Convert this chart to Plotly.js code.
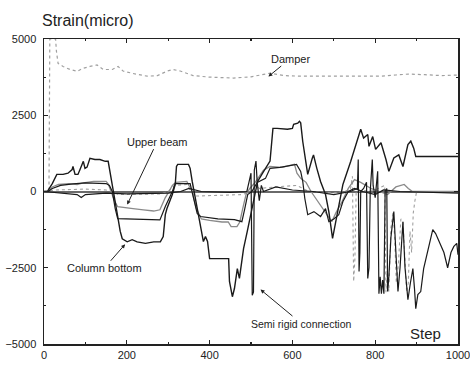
<!DOCTYPE html>
<html>
<head>
<meta charset="utf-8">
<script src="https://cdn.plot.ly/plotly-3.0.1.min.js"></script>
<style>html,body{margin:0;padding:0;background:#fff;}#chart{width:470px;height:365px;}</style>
</head>
<body>
<div id="chart"></div>
<script>
// ---- data ----
const damperX = [0,12,14,28,30,34,46,63,80,94,111,128,143,165,179,191,215,249,274,298,312,329,360,400,458,500,546,580,620,650,700,760,812,850,880,920,960,1000];
const damperY = [0,0,5000,5000,4600,4200,4100,4000,3940,4040,4100,4150,4000,4000,4100,3950,3870,3780,3800,3950,4000,3950,3800,3750,3720,3760,3880,3800,3780,3780,3760,3780,3780,3820,3850,3830,3800,3820];

const colX = [0,8,20,31,46,58,68,70,75,82,87,95,99,104,111,123,135,148,155,160,167,174,179,184,189,201,213,225,245,265,281,288,293,297,310,317,320,323,349,353,358,370,378,385,390,395,400,446,448,455,460,467,472,482,491,499,506,516,528,543,546,553,563,588,600,603,613,617,620,625,632,637,648,651,659,668,680,688,697,709,722,741,765,772,782,785,794,801,814,826,833,845,857,867,879,886,893,898,1000];
const colY = [0,0,260,560,560,600,720,820,560,560,720,990,760,800,1090,1050,1050,990,990,560,0,-500,-900,-1300,-1550,-1650,-1580,-1650,-1700,-1650,-1650,-1480,-760,-560,-100,230,820,890,890,760,330,-560,-1090,-1640,-1480,-1640,-2200,-2200,-2950,-3450,-3180,-2530,-2850,-1870,-1310,-760,-230,330,600,900,1000,2070,2070,2040,2070,2200,2240,2300,2250,1640,1090,560,1090,1200,760,330,-100,-660,-1540,-660,230,990,2040,1750,1870,1480,1800,1380,1600,1050,660,1100,1200,820,1540,1650,1420,1150,1150];

const upperX = [0,10,20,35,60,80,95,120,150,155,162,170,178,195,215,240,265,280,286,293,302,310,318,345,352,358,368,380,400,430,445,452,466,473,480,488,497,510,520,530,546,575,605,611,620,633,645,660,680,695,705,720,735,750,765,790,810,830,850,870,880,890,1000];
const upperY = [0,0,150,230,260,230,280,330,330,250,0,-300,-500,-520,-560,-600,-640,-600,-400,-200,0,200,300,330,150,0,-560,-900,-950,-1000,-1000,-1150,-1150,-1000,-560,-100,100,300,500,700,820,790,890,600,430,300,0,-300,-700,-990,-700,-330,100,390,300,100,0,-100,150,230,100,0,0];

const midX = [0,10,20,40,70,100,150,158,165,172,178,200,240,280,287,293,310,317,353,358,370,378,420,460,478,485,492,502,515,535,546,570,600,610,620,625,630,637,652,668,680,688,700,712,722,735,750,770,800,820,860,1000];
const midY = [0,0,100,200,250,280,260,200,0,-560,-890,-900,-920,-930,-700,-490,0,260,260,0,-720,-820,-900,-920,-990,-560,-100,0,300,430,760,790,850,890,660,330,-230,-760,-660,-820,-560,-990,-900,-760,-330,0,100,0,-100,50,0,-50];

const semiX = [0,40,80,90,100,150,200,300,330,350,380,450,490,495,500,503,506,508,512,515,520,525,530,560,600,650,700,740,757,759,761,763,765,772,779,782,785,788,793,795,800,806,809,812,815,818,821,824,828,830,833,838,845,850,855,860,867,872,879,885,891,895,898,903,910,917,930,939,946,958,966,975,983,990,997,1000];
const semiY = [0,-50,-100,-200,-100,-50,-80,-50,0,100,0,-30,0,300,600,-3400,-3300,700,1000,300,-300,200,0,150,50,0,-100,0,100,1050,-2620,-2000,0,100,300,-2850,-2500,0,1050,200,-200,660,-3350,-2800,-3350,-2900,-3350,0,100,-3280,-2800,-1500,-660,-2000,-3280,-2500,-990,-2500,-3550,-3000,-2530,-3200,-3840,-3380,-3280,-2530,-1740,-1250,-1380,-1740,-2000,-2500,-2000,-1800,-1700,-2070];

const braceX = [0,30,100,150,165,180,280,300,315,345,355,365,480,500,510,520,560,610,640,700,740,745,748,751,754,800,823,826,829,833,838,843,847,851,856,862,867,872,876,880,884,888,892,896,900,1000];
const braceY = [0,50,80,50,0,-100,-80,0,200,230,0,-150,-100,0,200,100,150,200,0,-50,50,500,-2950,-2200,0,50,200,-3300,-2600,-3280,-1200,-660,-1500,-3000,-2400,-900,-990,-2600,-3300,-3000,-1300,-2000,-700,-300,0,0];

const xTicks = [0,200,400,600,800,1000];
const yTicks = [-5000,-2500,0,2500,5000];

// ---- chart ----
const BLACK = '#1a1a1a', GRAY = '#8a8a8a', LGRAY = '#a0a0a0';
const traces = [
  {name:'Damper', x:damperX, y:damperY, mode:'lines', line:{color:LGRAY, width:1.2, dash:'dot'}},
  {name:'Brace', x:braceX, y:braceY, mode:'lines', line:{color:LGRAY, width:1.1, dash:'dot'}},
  {name:'Upper beam', x:upperX, y:upperY, mode:'lines', line:{color:GRAY, width:1.3}},
  {name:'Column top', x:midX, y:midY, mode:'lines', line:{color:BLACK, width:1.2}},
  {name:'Semi rigid connection', x:semiX, y:semiY, mode:'lines', line:{color:BLACK, width:1.2}},
  {name:'Column bottom', x:colX, y:colY, mode:'lines', line:{color:BLACK, width:1.4}}
];

const F = 'Arial, "Liberation Sans", sans-serif';
const layout = {
  width:470, height:365,
  margin:{l:44, r:12, t:39, b:21, autoexpand:false},
  paper_bgcolor:'#fff', plot_bgcolor:'#fff',
  showlegend:false,
  font:{family:F, size:11, color:'#222'},
  xaxis:{range:[0,1000], tickvals:xTicks, ticks:'inside', ticklen:4, tickwidth:1.2, tickcolor:'#222',
         minor:{dtick:100, ticks:'inside', ticklen:2, tickcolor:'#222'},
         showgrid:false, zeroline:false, showline:true, linecolor:'#222', linewidth:1.5, mirror:'ticks',
         ticklabeloverflow:'allow',
         tickfont:{family:F, size:11, color:'#222'}, fixedrange:true},
  yaxis:{range:[-5000,5000], tickvals:yTicks, ticks:'inside', ticklen:4, tickwidth:1.2, tickcolor:'#222',
         minor:{dtick:1250, ticks:'inside', ticklen:2, tickcolor:'#222'},
         showgrid:false, zeroline:true, zerolinecolor:'#6a6a6a', zerolinewidth:2,
         showline:true, linecolor:'#222', linewidth:1.5, mirror:'ticks', ticklabelstandoff:4,
         ticklabeloverflow:'allow',
         tickfont:{family:F, size:11, color:'#222'}, fixedrange:true},
  annotations:[
    {xref:'paper', yref:'paper', x:-0.01, y:1.062, xanchor:'left', yanchor:'middle', showarrow:false,
     text:'Strain(micro)', font:{family:F, size:16, color:'#222'}},
    {x:201, y:-430, text:'Upper beam', showarrow:true, ax:30, ay:-63, arrowhead:2, arrowsize:0.8, arrowwidth:1, arrowcolor:'#222', font:{family:F, size:11, color:'#222'}},
    {x:542, y:3770, text:'Damper', showarrow:true, ax:22, ay:-18, arrowhead:2, arrowsize:0.8, arrowwidth:1, arrowcolor:'#222', font:{family:F, size:11, color:'#222'}},
    {x:196, y:-1730, text:'Column bottom', showarrow:true, ax:-21, ay:24, arrowhead:2, arrowsize:0.8, arrowwidth:1, arrowcolor:'#222', font:{family:F, size:11, color:'#222'}},
    {x:523, y:-3215, text:'Semi rigid connection', showarrow:true, ax:41, ay:34, arrowhead:2, arrowsize:0.8, arrowwidth:1, arrowcolor:'#222', font:{family:F, size:10.5, color:'#222'}},
    {x:922, y:-4660, text:'Step', showarrow:false, font:{family:F, size:15, color:'#222'}}
  ]
};
Plotly.newPlot('chart', traces, layout, {displayModeBar:false, staticPlot:true});
</script>
</body>
</html>
